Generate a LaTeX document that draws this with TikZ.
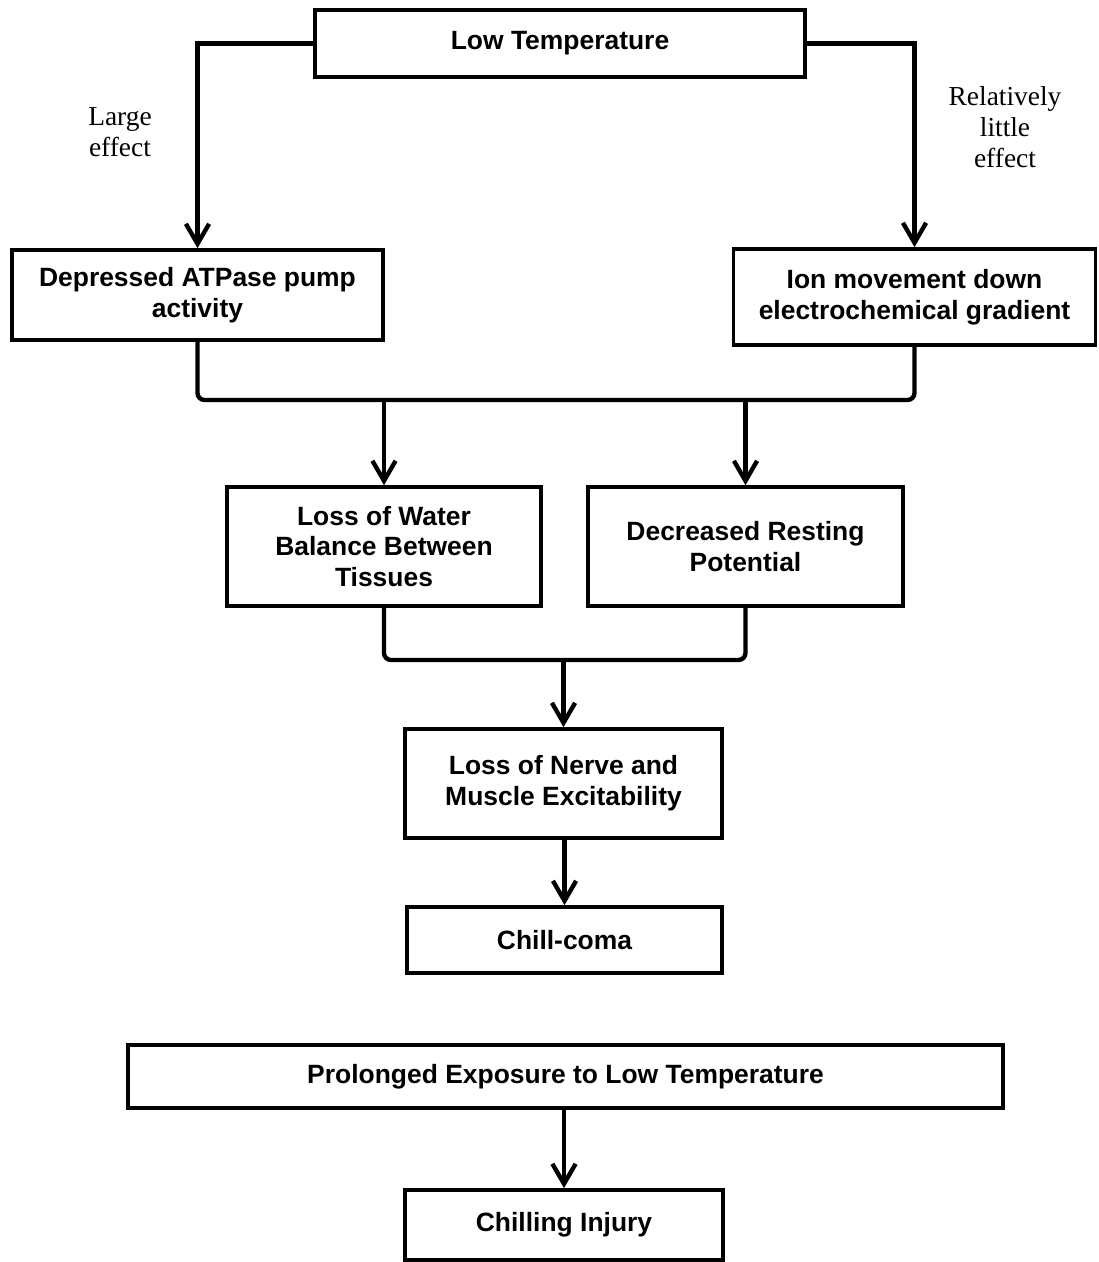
\documentclass[tikz,border=0pt]{standalone}
\usepackage{fontspec}
\setsansfont{Liberation Sans}
\setmainfont{Liberation Serif}
\usepackage{tikz}
\usetikzlibrary{arrows.meta,calc}

\begin{document}
\begin{tikzpicture}[x=0.025cm,y=-0.025cm,
    box/.style={draw,line width=2.6pt,align=center,inner sep=2pt,
      font=\sffamily\bfseries\fontsize{18.8}{22}\selectfont},
    link/.style={line width=3.1pt},
    flow/.style={link,-{Straight Barb[length=5mm,width=5.8mm]}},
    note/.style={align=center,font=\fontsize{19.5}{22}\selectfont}]
  \useasboundingbox (0,0) rectangle (1098,1262);
  % boxes
  \node[box,minimum width=490*0.025cm,minimum height=67*0.025cm](low)at(560,43.5){Low Temperature};
  \node[box,minimum width=371*0.025cm,minimum height=90*0.025cm](atp)at(197.5,295){Depressed ATPase pump\\activity};
  \node[box,minimum width=362*0.025cm,minimum height=96*0.025cm](ion)at(914.5,297){Ion movement down\\electrochemical gradient};
  \node[box,minimum width=314*0.025cm,minimum height=119*0.025cm](water)at(384,546.5){Loss of Water\\Balance Between\\Tissues};
  \node[box,minimum width=315*0.025cm,minimum height=119*0.025cm](rest)at(745.5,546.5){Decreased Resting\\Potential};
  \node[box,minimum width=317*0.025cm,minimum height=109*0.025cm](nerve)at(563.5,783.5){Loss of Nerve and\\Muscle Excitability};
  \node[box,minimum width=315*0.025cm,minimum height=66*0.025cm](coma)at(564.5,940){Chill-coma};
  \node[box,minimum width=875*0.025cm,minimum height=63*0.025cm](prolong)at(565.5,1076.5){Prolonged Exposure to Low Temperature};
  \node[box,minimum width=318*0.025cm,minimum height=70*0.025cm](injury)at(564,1225){Chilling Injury};
  % labels
  \node[note](large)at(120,132){Large\\effect};
  \node[note](little)at(1005,127){Relatively\\little\\effect};
  % connectors
  \draw[flow](low.west)-|(atp.north);
  \draw[flow](low.east)-|(ion.north);
  \coordinate(j1)at(562,400);
  \coordinate(j2)at(563.5,660);
  \draw[link,rounded corners=5pt](atp.south)|-(ion.south|-j1)--(ion.south);
  \draw[flow](water.north|-j1)--(water.north);
  \draw[flow](rest.north|-j1)--(rest.north);
  \draw[link,rounded corners=5pt](water.south)|-(rest.south|-j2)--(rest.south);
  \draw[flow](j2)--(nerve.north);
  \draw[flow](coma.north|-nerve.south)--(coma.north);
  \draw[flow](injury.north|-prolong.south)--(injury.north);
\end{tikzpicture}
\end{document}
